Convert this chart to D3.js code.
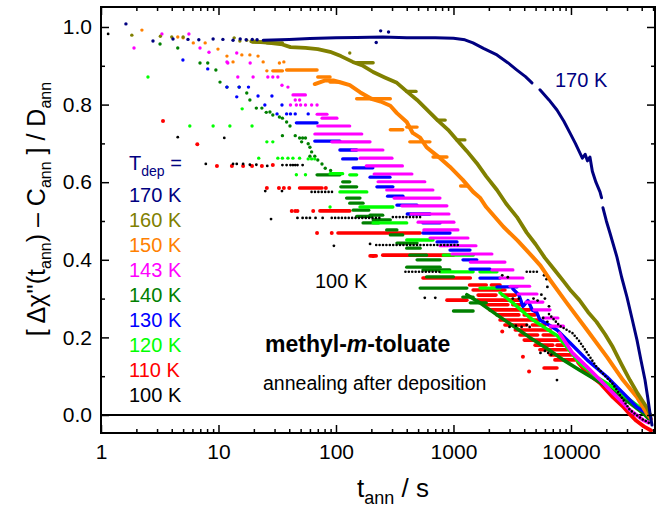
<!DOCTYPE html>
<html>
<head>
<meta charset="utf-8">
<script src="https://cdn.jsdelivr.net/npm/d3@7"></script>
<style>
  body { margin: 0; background: #fff; }
  svg { display: block; font-family: "Liberation Sans", Arial, Helvetica, sans-serif; }
</style>
</head>
<body>
<svg id="chart" width="659" height="510"></svg>
<script>
// ---- series labels and colours ----
const labels = ["170 K", "160 K", "150 K", "143 K", "140 K", "130 K", "120 K", "110 K", "100 K"];
const colors = ["#000080", "#808000", "#ff8000", "#ff00ff", "#008000", "#0000ff", "#00ff00", "#ff0000", "#000000"];

// ---- axis ticks ----
const xMajorTicks = [1, 10, 100, 1000, 10000];
const xMinorTicks = [2,3,4,5,6,7,8,9, 20,30,40,50,60,70,80,90, 200,300,400,500,600,700,800,900,
                     2000,3000,4000,5000,6000,7000,8000,9000, 20000,30000,40000,50000];
const yMajorTicks = [0, 0.2, 0.4, 0.6, 0.8, 1.0];
const yMinorTicks = [0.1, 0.3, 0.5, 0.7, 0.9];

// ---- data: single points [t, value], level runs [t1, t2, value], dense traces [t, value] ----
// 170 K
const dots170 = [[1.63,1.008],[2.77,0.964],[4.1,0.969],[5.5,0.968],[6.8,0.967],[9.0,0.969],[10.9,0.968],[13.3,0.966],
  [15.3,0.969],[17.2,0.967],[19.4,0.968],[21.3,0.967],[220,0.960],[240,0.990],[280,0.987]];
const runs170 = [];
const trace170 = [[24,0.966],[40,0.968],[60,0.970],[100,0.972],[150,0.973],[250,0.974],[400,0.972],[700,0.972],
  [1000,0.971],[1250,0.967],[1466,0.959],[1800,0.945],[2345,0.928],[2900,0.908],[3470,0.889],[4100,0.872],[4655,0.856],
  null,[5445,0.838],[6500,0.812],[7600,0.786],[8700,0.757],[9800,0.727],[10900,0.700],[11930,0.675],[12500,0.662],
  [13200,0.672],[13800,0.655],[14500,0.665],[15200,0.628],[16300,0.600],[17660,0.575],[18200,0.560],
  null,[18720,0.534],[20000,0.500],[21470,0.469],[24620,0.407],[27000,0.355],[29970,0.304],[33000,0.250],
  [36480,0.193],[39500,0.140],[42680,0.090],[45000,0.045],[47000,0.005],[48900,-0.026]];

// 160 K
const dots160 = [[1.83,0.979],[3.2,0.976],[4.0,0.974],[5.0,0.974],[13.6,0.972],[15.2,0.964],[17.4,0.966],[131,0.933]];
const runs160 = [[19.5,26,0.961],[26,35,0.959],[150,207,0.908],[400,480,0.834],[730,850,0.760],[1070,1250,0.709]];
const trace160 = [[19,0.963],[26,0.960],[35,0.955],[41,0.948],[55,0.946],[70,0.943],[89,0.936],[110,0.925],[139,0.910],
  [170,0.900],[207,0.884],[260,0.870],[330,0.856],[400,0.834],[490,0.812],[600,0.786],[730,0.760],[900,0.735],
  [1070,0.709],[1300,0.680],[1580,0.649],[1900,0.615],[2345,0.580],[2800,0.545],[3470,0.510],[4200,0.470],
  [5000,0.440],[6000,0.405],[7200,0.375],[8630,0.345],[10000,0.320],[11800,0.296],[14000,0.265],[16500,0.240],
  [19500,0.208],[22700,0.175],[27000,0.130],[31700,0.090],[37000,0.055],[44000,0.020],[47500,0.000]];

// 150 K
const dots150 = [[2.23,0.992],[4.5,0.974],[5.0,0.972],[6.1,0.959],[7.7,0.959],[9.9,0.943],[11.8,0.925],[13.3,0.910],
  [15.8,0.928],[18.5,0.928],[21.7,0.925],[24,0.910],[25.8,0.887],[33,0.907],[36,0.910]];
const runs150 = [[29,35,0.887],[38,69,0.889],[70,89,0.871],[89,108,0.858],[150,290,0.815],[290,370,0.735],
  [400,490,0.742],[425,630,0.704],[670,880,0.665],[1150,1300,0.590]];
const trace150 = [[66,0.853],[80,0.862],[95,0.862],[110,0.857],[131,0.850],[160,0.832],[200,0.815],[240,0.808],
  [290,0.797],[330,0.778],[400,0.755],[450,0.727],[520,0.715],[590,0.690],[680,0.675],[770,0.662],[930,0.640],
  [1200,0.606],[1470,0.575],[1680,0.560],[1900,0.536],[2660,0.485],[3500,0.450],[4740,0.407],[5500,0.385],
  [6640,0.348],[9200,0.289],[13700,0.219],[20300,0.149],[27700,0.090],[36500,0.046],[44000,0.005],[48000,-0.010]];

// 143 K
const dots143 = [[1.91,0.946],[3.3,0.982],[5.6,0.982],[6.96,0.946],[8.3,0.935],[11.8,0.910],[12.0,0.907],[14.3,0.933],
  [14.6,0.871],[18.6,0.907],[19.7,0.871],[26.3,0.871],[29,0.871],[32,0.871],[34.7,0.850],[39,0.845],[41,0.799],
  [46,0.799],[50,0.799],[55,0.799],[62,0.799],[69,0.799],[45,0.812],[49,0.812]];
const runs143 = [[43,55,0.825],[69,84,0.775],[76,102,0.765],[70,131,0.745],[66,166,0.724],[92,195,0.704],[137,251,0.683],
  [160,300,0.662],[181,368,0.642],[211,443,0.621],[228,571,0.601],[270,669,0.580],[312,768,0.559],[363,880,0.539],
  [435,916,0.518],[499,1010,0.497],[559,1092,0.477],[631,1329,0.456],[768,1555,0.436],[971,2126,0.415],
  [1390,2744,0.394],[2126,3209,0.374],[2488,3904,0.353],[3027,4450,0.332],[3550,5140,0.312],[4140,5776,0.291],
  [4840,6640,0.271],[5776,7751,0.250],[6640,8630,0.229]];
const trace143 = [[8000,0.211],[10300,0.160],[13700,0.124],[17700,0.090],[22700,0.057],[31700,0.013],[41000,-0.013],[46000,-0.020]];

// 140 K
const dots140 = [[3.18,0.956],[4.5,0.946],[6.96,0.907],[8.1,0.907],[9.5,0.889],[10.3,0.858],[11.8,0.845],[15,0.845],
  [17.4,0.830],[18.5,0.812],[21,0.791],[23.4,0.791],[25.5,0.780],[27.4,0.781],[29,0.773],[33,0.768],[35,0.765],
  [38,0.755],[40.6,0.745],[35,0.720],[45,0.720],[49,0.714],[52,0.714],[55,0.714],[51,0.704],[58,0.699],[60,0.690],
  [62,0.678],[60,0.667],[66,0.667],[70,0.657],[76,0.647],[81,0.636],[90,0.630]];
const runs140 = [[69,108,0.619],[114,131,0.601],[110,150,0.588],[123,160,0.559],[131,170,0.546],[140,190,0.528],
  [150,200,0.512],[170,230,0.495],[195,250,0.515],[207,290,0.503],[270,330,0.477],[290,370,0.464],[330,490,0.443],
  [400,520,0.430],[425,590,0.412],[490,770,0.400],[400,770,0.381],[550,930,0.374],[590,1000,0.356],[520,1300,0.327],
  [1000,1470,0.268],[1200,1470,0.304],[1390,1900,0.289]];
const trace140 = [[1300,0.310],[1680,0.289],[2345,0.258],[3200,0.230],[4450,0.200],[6200,0.172],[8600,0.142],
  [11800,0.116],[16500,0.090],[22700,0.064],[31700,0.031],[41000,0.005],[46000,-0.010]];

// 130 K
const dots130 = [[4.98,0.915],[8.1,0.892],[11.8,0.845],[14.3,0.820],[15,0.845],[18,0.845],[21.7,0.822],[24.8,0.799],
  [28.5,0.822],[31.5,0.776],[34.7,0.799],[38,0.776],[41,0.776],[45,0.776],[58,0.776]];
const runs130 = [[46,69,0.753],[66,108,0.706],[108,150,0.683],[114,150,0.660],[140,206,0.637],[195,288,0.613],
  [223,305,0.588],[275,372,0.564],[330,489,0.541],[404,631,0.518],[550,768,0.495],[550,934,0.469],[724,1071,0.446],
  [934,1382,0.425],[1205,1580,0.400],[1382,2045,0.376],[1680,2488,0.353],[2345,3471,0.330]];
const trace130 = [[3200,0.325],[3600,0.310],[3900,0.280],[4300,0.295],[4700,0.270],[5100,0.265],[5440,0.245],
  [6500,0.232],[7600,0.219],[9800,0.186],[13700,0.142],[20300,0.098],[27700,0.057],[36500,0.020],[44000,0.005],[48000,-0.010]];

// 120 K
const dots120 = [[2.51,0.871],[5.7,0.745],[9.0,0.745],[12.5,0.745],[15.9,0.789],[19.3,0.745],[22,0.662],[25.8,0.704],
  [29,0.704],[32,0.662],[35,0.662],[39,0.662],[43,0.662],[49,0.662],[46,0.619],[55,0.619],[58,0.660],[62,0.660],
  [66,0.660],[89,0.536]];
const runs120 = [[89,114,0.622],[131,150,0.619],[108,183,0.575],[160,305,0.536],[207,400,0.495],[400,670,0.451],
  [820,1470,0.412],[770,1470,0.369],[1680,2345,0.369],[1680,2490,0.327]];
const trace120 = [[2490,0.315],[3200,0.289],[4500,0.250],[6200,0.222],[7600,0.205],[9800,0.165],[11800,0.134],
  [16500,0.098],[22700,0.072],[31700,0.039],[41000,0.013],[46000,0.000]];

// 110 K
const dots110 = [[3.37,0.758],[6.6,0.698],[9.7,0.642],[13.0,0.642],[16.2,0.642],[19.3,0.642],[23.4,0.642],[29,0.644],
  [25.8,0.585],[32.7,0.585],[36,0.585],[40,0.585],[82,0.585],[42,0.526],[45,0.526],[47,0.526],[64,0.526],[69,0.469],
  [92,0.469],[207,0.410],[3900,0.150],[2600,0.215],[4400,0.112]];
const runs110 = [[49,76,0.585],[73,131,0.526],[104,520,0.469],[195,220,0.410],[250,1000,0.412],[550,1390,0.353],
  [880,1300,0.296],[1370,1900,0.335],[2100,2490,0.335],[1470,2740,0.322],[1620,2300,0.309],[2600,3360,0.309],
  [1600,3700,0.296],[1850,2900,0.284],[3200,4000,0.284],[2030,4450,0.271],[2345,3600,0.258],[4000,4950,0.258],
  [2490,5440,0.245],[2740,4200,0.232],[4700,6000,0.232],[3360,6640,0.219],[3680,5200,0.206],[5800,7300,0.206],
  [4000,8000,0.193],[4950,7000,0.180],[7600,8900,0.180],[5440,9800,0.168],[6640,10300,0.155],[7300,11500,0.142],
  [5900,7600,0.121]];
const trace110 = [[11500,0.135],[13700,0.108],[17700,0.082],[22700,0.046],[28000,0.020],[31000,0.005],[36000,-0.015],
  [42000,-0.030],[48000,-0.040]];

// 100 K
const dots100 = [[1.15,0.982],[4.5,0.716],[7.8,0.647],[11.2,0.714],[13.3,0.647],[14.3,0.647],[16.2,0.647],[18.5,0.645],
  [21,0.645],[25,0.577],[26,0.642],[28,0.505],[34.7,0.577],[35,0.644],[38,0.644],[41,0.644],[43,0.644],[45,0.644],
  [47,0.644],[52,0.644],[47,0.508],[52,0.508],[56,0.508],[60,0.508],[67,0.508],[77,0.508],[96,0.436],[195,0.441],
  [570,0.302],[700,0.302],[7600,0.090],[2600,0.360],[2900,0.355],[3000,0.227],[3400,0.230],[3800,0.227],[4200,0.232],
  [4450,0.227],[3200,0.300],[3600,0.300],[4800,0.300],[5200,0.295],[5600,0.310],[6000,0.300],[6300,0.330],
  [5900,0.360],[6200,0.350],[6500,0.280],[5500,0.160],[6000,0.165],[6400,0.160],[6800,0.155],[5800,0.250],[6300,0.240]];
const runs100 = [[62,95,0.575],[92,236,0.508],[305,550,0.510],[220,1150,0.438],[390,770,0.369],[4200,5400,0.369]];
const trace100 = [[6500,0.260],[8000,0.230],[10300,0.211],[11800,0.190],[16500,0.124],[22700,0.080],[31700,0.013],
  [40000,-0.010],[46000,-0.020]];

// ---- chart ----
const plotLeft = 101, plotRight = 655, plotTop = 7, plotBottom = 433;
const svg = d3.select("#chart");
const font = '"Liberation Sans", Arial, Helvetica, sans-serif';

const x = d3.scaleLog().domain([1, 51900]).range([plotLeft, plotRight]);
const y = d3.scaleLinear().domain([-0.0464, 1.0515]).range([plotBottom, plotTop]);

svg.append("defs").append("clipPath").attr("id", "plotClip")
  .append("rect").attr("x", plotLeft).attr("y", plotTop)
  .attr("width", plotRight - plotLeft).attr("height", plotBottom - plotTop);

// zero reference line
svg.append("line")
  .attr("x1", plotLeft).attr("x2", plotRight).attr("y1", y(0)).attr("y2", y(0))
  .attr("stroke", "#000").attr("stroke-width", 2);

const plot = svg.append("g").attr("clip-path", "url(#plotClip)");

const series = [
  { idx: 0, dots: dots170, runs: runs170, trace: trace170, tw: 3.0, rw: 3.2 },
  { idx: 1, dots: dots160, runs: runs160, trace: trace160, tw: 3.8, rw: 3.4 },
  { idx: 2, dots: dots150, runs: runs150, trace: trace150, tw: 4.0, rw: 3.4 },
  { idx: 3, dots: dots143, runs: runs143, trace: trace143, tw: 3.6, rw: 3.1 },
  { idx: 4, dots: dots140, runs: runs140, trace: trace140, tw: 3.6, rw: 3.3 },
  { idx: 5, dots: dots130, runs: runs130, trace: trace130, tw: 3.4, rw: 3.3 },
  { idx: 6, dots: dots120, runs: runs120, trace: trace120, tw: 3.4, rw: 3.3 },
  { idx: 7, dots: dots110, runs: runs110, trace: trace110, tw: 3.8, rw: 3.6 },
  { idx: 8, dots: dots100, runs: runs100, trace: trace100, tw: 2.6, rw: 2.6, dotted: true }
];

// drawing order (later on top)
const order = [7, 4, 6, 5, 3, 8, 2, 1, 0];

const line = d3.line()
  .defined(d => d !== null)
  .x(d => x(d[0]))
  .y(d => y(d[1]));

order.forEach(i => {
  const s = series[i];
  const col = colors[s.idx];
  const g = plot.append("g").attr("class", "series-" + labels[s.idx].replace(" ", ""));

  g.selectAll("line.run").data(s.runs).join("line")
    .attr("class", "run")
    .attr("x1", d => x(d[0])).attr("x2", d => x(d[1]))
    .attr("y1", d => y(d[2])).attr("y2", d => y(d[2]))
    .attr("stroke", col).attr("stroke-width", s.rw)
    .attr("stroke-linecap", "round")
    .attr("stroke-dasharray", s.dotted ? "0,3.4" : null);

  g.append("path").datum(s.trace)
    .attr("d", line)
    .attr("fill", "none")
    .attr("stroke", col).attr("stroke-width", s.tw)
    .attr("stroke-linecap", "round").attr("stroke-linejoin", "round")
    .attr("stroke-dasharray", s.dotted ? "0,3.4" : null);

  g.selectAll("circle").data(s.dots).join("circle")
    .attr("cx", d => x(d[0])).attr("cy", d => y(d[1]))
    .attr("r", s.idx === 7 ? 2.0 : (s.dotted ? 1.4 : 1.7))
    .attr("fill", col);
});

// ---- axes (ticks point inward) ----
function styleAxis(g) {
  g.select(".domain").remove();
  g.selectAll("line").attr("stroke", "#000").attr("stroke-width", 1.5);
  g.attr("font-family", font).attr("font-size", 21);
  g.selectAll("text").attr("fill", "#000");
}
svg.append("g").attr("transform", `translate(0,${plotBottom})`)
  .call(d3.axisBottom(x).tickValues(xMajorTicks).tickSize(-8).tickPadding(11).tickFormat(d3.format("d")))
  .call(styleAxis);
svg.append("g").attr("transform", `translate(0,${plotBottom})`)
  .call(d3.axisBottom(x).tickValues(xMinorTicks).tickSize(-4).tickFormat(""))
  .call(styleAxis);
svg.append("g").attr("transform", `translate(0,${plotTop})`)
  .call(d3.axisTop(x).tickValues(xMajorTicks).tickSize(-8).tickFormat(""))
  .call(styleAxis);
svg.append("g").attr("transform", `translate(0,${plotTop})`)
  .call(d3.axisTop(x).tickValues(xMinorTicks).tickSize(-4).tickFormat(""))
  .call(styleAxis);
svg.append("g").attr("transform", `translate(${plotLeft},0)`)
  .call(d3.axisLeft(y).tickValues(yMajorTicks).tickSize(-8).tickPadding(9).tickFormat(d3.format(".1f")))
  .call(styleAxis);
svg.append("g").attr("transform", `translate(${plotLeft},0)`)
  .call(d3.axisLeft(y).tickValues(yMinorTicks).tickSize(-4).tickFormat(""))
  .call(styleAxis);
svg.append("g").attr("transform", `translate(${plotRight},0)`)
  .call(d3.axisRight(y).tickValues(yMajorTicks).tickSize(-8).tickFormat(""))
  .call(styleAxis);
svg.append("g").attr("transform", `translate(${plotRight},0)`)
  .call(d3.axisRight(y).tickValues(yMinorTicks).tickSize(-4).tickFormat(""))
  .call(styleAxis);

// frame
svg.append("rect")
  .attr("x", plotLeft).attr("y", plotTop)
  .attr("width", plotRight - plotLeft).attr("height", plotBottom - plotTop)
  .attr("fill", "none").attr("stroke", "#000").attr("stroke-width", 2);

// ---- axis titles ----
const xt = svg.append("text")
  .attr("x", 357).attr("y", 497)
  .attr("font-family", font).attr("font-size", 26).attr("fill", "#000");
xt.append("tspan").text("t");
xt.append("tspan").attr("font-size", 18).attr("dy", 7).text("ann");
xt.append("tspan").attr("dy", -7).text(" / s");

const yt = svg.append("text")
  .attr("transform", "translate(45,209) rotate(-90)")
  .attr("text-anchor", "middle")
  .attr("font-family", font).attr("font-size", 25).attr("fill", "#000");
yt.append("tspan").text("[ Δχ''(t");
yt.append("tspan").attr("font-size", 16).attr("dy", 6).text("ann");
yt.append("tspan").attr("dy", -6).text(") – C");
yt.append("tspan").attr("font-size", 16).attr("dy", 6).text("ann");
yt.append("tspan").attr("dy", -6).text(" ] / D");
yt.append("tspan").attr("font-size", 16).attr("dy", 6).text("ann");

// ---- legend ----
const lt = svg.append("text")
  .attr("x", 129).attr("y", 170)
  .attr("font-family", font).attr("font-size", 20).attr("fill", colors[0]);
lt.append("tspan").text("T");
lt.append("tspan").attr("font-size", 14).attr("dy", 6).text("dep");
lt.append("tspan").attr("dy", -6).text(" =");

svg.append("g").selectAll("text").data(labels).join("text")
  .attr("x", 129).attr("y", (d, i) => 202 + 25 * i)
  .attr("font-family", font).attr("font-size", 20)
  .attr("fill", (d, i) => colors[i])
  .text(d => d);

// ---- annotations ----
svg.append("text").attr("x", 555).attr("y", 87)
  .attr("font-family", font).attr("font-size", 20).attr("fill", colors[0]).text("170 K");
svg.append("text").attr("x", 315).attr("y", 288)
  .attr("font-family", font).attr("font-size", 20).attr("fill", "#000").text("100 K");

const nm = svg.append("text").attr("x", 265).attr("y", 352)
  .attr("font-family", font).attr("font-size", 23).attr("font-weight", "bold").attr("fill", "#000");
nm.append("tspan").text("methyl-");
nm.append("tspan").attr("font-style", "italic").text("m");
nm.append("tspan").text("-toluate");

svg.append("text").attr("x", 263).attr("y", 390)
  .attr("font-family", font).attr("font-size", 19.5).attr("fill", "#000")
  .text("annealing after deposition");
</script>
</body>
</html>
